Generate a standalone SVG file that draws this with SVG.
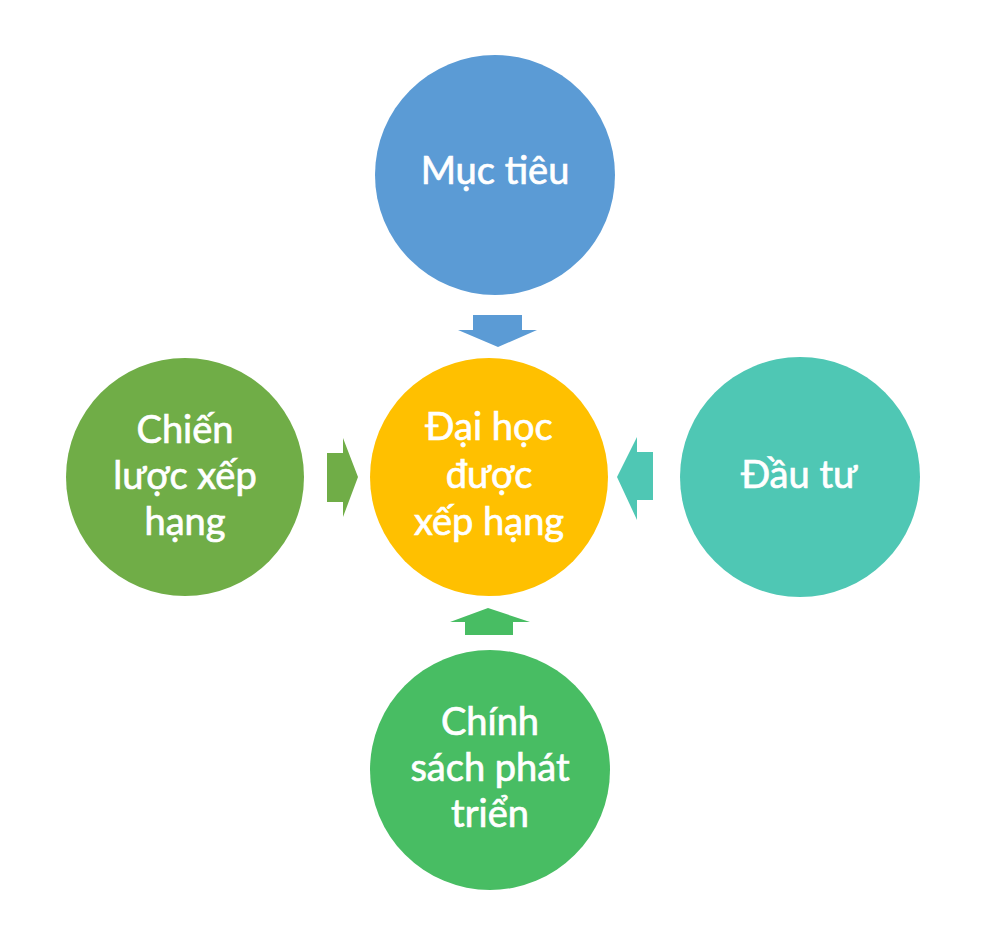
<svg xmlns="http://www.w3.org/2000/svg" width="1000" height="951" viewBox="0 0 1000 951">
<style>
text{font-family:Lato,"Open Sans","Liberation Sans",sans-serif;font-size:38px;fill:#ffffff;stroke:#ffffff;stroke-width:0.7;text-anchor:middle}
</style>
<rect width="1000" height="951" fill="#ffffff"/>
<g id="connectors">
<polygon id="arrow-top" points="473,315 522,315 522,330 537,330 498,347 458,330 473,330" fill="#5B9BD5"/>
<polygon id="arrow-left" points="327,453 343,453 343,438 358,477 343,517 343,502 327,502" fill="#70AD47"/>
<polygon id="arrow-right" points="653,452 637,452 637,437 617,477 637,520 637,500 653,500" fill="#4FC7B4"/>
<polygon id="arrow-bottom" points="465,635 513,635 513,622 530,622 488,608 450,622 465,622" fill="#48BD63"/>
</g>
<g id="muc-tieu">
<circle cx="495" cy="175" r="120" fill="#5B9BD5"/>
<text x="495" y="184">Mục tiêu</text>
</g>
<g id="chien-luoc">
<circle cx="185" cy="477" r="119" fill="#70AD47"/>
<text x="185" y="443">Chiến</text>
<text x="185" y="489">lược xếp</text>
<text x="185" y="535">hạng</text>
</g>
<g id="dai-hoc">
<circle cx="489" cy="477" r="119" fill="#FFC000"/>
<text x="489" y="440">Đại học</text>
<text x="489" y="488">được</text>
<text x="489" y="535">xếp hạng</text>
</g>
<g id="dau-tu">
<circle cx="800" cy="477" r="120" fill="#4FC7B4"/>
<text x="799" y="488">Đầu tư</text>
</g>
<g id="chinh-sach">
<circle cx="490" cy="770" r="120" fill="#48BD63"/>
<text x="490" y="735">Chính</text>
<text x="490" y="781">sách phát</text>
<text x="490" y="827">triển</text>
</g>
</svg>
